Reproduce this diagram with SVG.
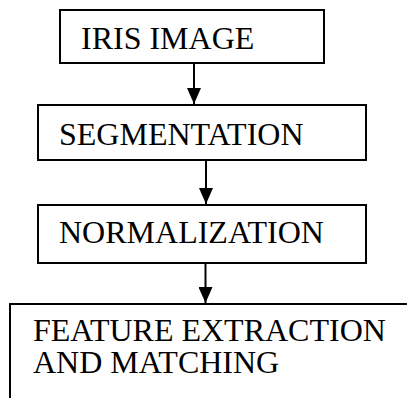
<svg xmlns="http://www.w3.org/2000/svg" width="407" height="398" viewBox="0 0 407 398">
  <style>
    .box { fill: #fff; stroke: #000; stroke-width: 2; }
    .lbl { font-family: 'Liberation Serif', 'DejaVu Serif', serif; font-size: 32px; fill: #000; }
    .edge { stroke: #000; stroke-width: 2; fill: none; }
  </style>
  <defs>
    <marker id="arrow" viewBox="0 0 16 14" refX="16" refY="7" markerWidth="16" markerHeight="14" markerUnits="userSpaceOnUse" orient="auto">
      <path d="M0,0 L16,7 L0,14 Z" fill="#000"/>
    </marker>
  </defs>
  <rect width="407" height="398" fill="#fff"/>

  <g id="iris-image">
    <rect class="box" x="60" y="10" width="264" height="53"/>
    <text class="lbl" x="81" y="49" font-family="Liberation Serif, serif">IRIS IMAGE</text>
  </g>

  <g id="segmentation">
    <rect class="box" x="38" y="105" width="328" height="55"/>
    <text class="lbl" x="59" y="145" font-family="Liberation Serif, serif">SEGMENTATION</text>
  </g>

  <g id="normalization">
    <rect class="box" x="38" y="205" width="328" height="58"/>
    <text class="lbl" x="59" y="243" font-family="Liberation Serif, serif">NORMALIZATION</text>
  </g>

  <g id="feature-extraction">
    <path class="box" d="M10,398 L10,304 L407,304"/>
    <text class="lbl" x="33" y="341" font-family="Liberation Serif, serif">FEATURE EXTRACTION</text>
    <text class="lbl" x="33" y="373" font-family="Liberation Serif, serif">AND MATCHING</text>
  </g>

  <g id="connectors">
    <line class="edge" x1="194" y1="63" x2="194" y2="104" marker-end="url(#arrow)"/>
    <line class="edge" x1="206" y1="160" x2="206" y2="204" marker-end="url(#arrow)"/>
    <line class="edge" x1="205.5" y1="263" x2="205.5" y2="303" marker-end="url(#arrow)"/>
  </g>
</svg>
